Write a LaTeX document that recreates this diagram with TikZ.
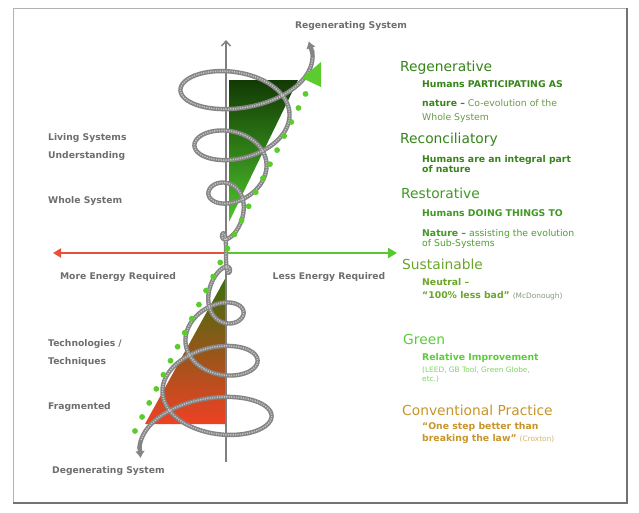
\documentclass[tikz,border=0pt]{standalone}
\usepackage{fontspec}
\setmainfont{DejaVu Sans}
\usetikzlibrary{arrows.meta}
\newcommand\tinyfs{\fontsize{7.4}{9}\selectfont}
\newcommand\subbf{\fontsize{9.3}{11}\selectfont\bfseries}
\newcommand\labfs{\fontsize{9.2}{11}\selectfont\bfseries}
\definecolor{labgray}{HTML}{6E6E6E}
\definecolor{axgray}{HTML}{7F7F7F}
\definecolor{ropegray}{HTML}{858585}
\definecolor{ropelight}{HTML}{C4C4C4}
\definecolor{redarrow}{HTML}{E9503A}
\definecolor{grnarrow}{HTML}{58C832}
\definecolor{dotgreen}{HTML}{5CCB2E}
\definecolor{darkg}{HTML}{123A04}
\definecolor{lightg}{HTML}{4EC52C}
\definecolor{olive}{HTML}{3B6E0E}
\definecolor{rust}{HTML}{B8601C}
\definecolor{redtri}{HTML}{EE4124}
\definecolor{hgreenA}{HTML}{37841B}
\definecolor{hgreenB}{HTML}{3F9A22}
\definecolor{subreg}{HTML}{6A9A48}
\definecolor{sustain}{HTML}{6AA628}
\definecolor{brightg}{HTML}{5CCC3A}
\definecolor{paleg}{HTML}{7FD465}
\definecolor{gold}{HTML}{C8952B}
\definecolor{paren}{HTML}{8A9A7A}
\begin{document}
\begin{tikzpicture}[x=1pt,y=-1pt,
  lbl/.style={anchor=base west,inner sep=0pt,text=labgray,font=\labfs},
  clbl/.style={anchor=base,inner sep=0pt,text=labgray,font=\labfs},
  head/.style={anchor=base west,inner sep=0pt,font=\fontsize{13.8}{16}\selectfont},
  sub/.style={anchor=base west,inner sep=0pt,font=\fontsize{9.3}{11}\selectfont},
  subb/.style={anchor=base west,inner sep=0pt,font=\subbf},
  axisline/.style={line width=1.6pt,draw=axgray},
  rope/.style={line width=4.4pt,draw=ropegray,line join=round},
  ropetex/.style={line width=1.5pt,draw=ropelight,dash pattern=on 1.2pt off 1.2pt},
  ropetip/.style={fill=ropegray,draw=ropegray,line width=0.5pt},
  declare function={
    hx(\t)=226 + 0.72*\t - 2.95*abs(\t)*sin(\t r);
    hy(\t)=253 - (5.5*\t + 0.095*\t*abs(\t) + 12*\t/sqrt(\t*\t+1)
            + (13*\t/sqrt(\t*\t+1.5) + 0.95*\t)*cos(\t r));
  },
]
\useasboundingbox (0,0) rectangle (639,512);
\fill[white] (0,0) rectangle (639,512);
% frame
\draw[black!30,line width=0.8pt] (627,8) -- (13,8) -- (13,503);
\draw[black!55,line width=1.6pt] (13,503) -- (627,503) -- (627,8);

% named points
\coordinate (O) at (226,253);
\coordinate (vtop) at (226,40);
\coordinate (vbot) at (226,462);
\coordinate (lend) at (53,253);
\coordinate (rend) at (397,253);
\coordinate (dotA) at (135,431);
\coordinate (dotB) at (306,93);

% triangles
\shade[top color=darkg,bottom color=lightg] (229,80) -- (298,80) -- (229,222) -- cycle;
\shade[top color=olive,middle color=rust,bottom color=redtri] (226,277) -- (226,424) -- (145,424) -- cycle;

% axes
\draw[axisline,-{Straight Barb[length=5pt,width=9pt,line width=1.4pt]}] (vbot) -- (vtop);
\draw[line width=2.3pt,draw=redarrow,-{Triangle[length=8pt,width=9pt]}] (O) -- (lend);
\draw[line width=2.6pt,draw=grnarrow,-{Triangle[length=9pt,width=10pt]}] (O) -- (rend);

% rope helix
\draw[rope] plot[domain=-23.6:23.75,samples=800] ({hx(\x)},{hy(\x)});
\draw[ropetex] plot[domain=-23.4:23.6,samples=800] ({hx(\x)},{hy(\x)});
% rope end tips
\coordinate (rtopA) at ({hx(23.7)},{hy(23.7)});
\coordinate (rtopB) at ({hx(23.95)},{hy(23.95)});
\coordinate (rbotA) at ({hx(-23.55)},{hy(-23.55)});
\coordinate (rbotB) at ({hx(-23.8)},{hy(-23.8)});
\draw[ropegray,line width=4.4pt,-{Latex[length=7pt,width=10pt]}] (rtopA) -- (rtopB);
\draw[ropegray,line width=4.4pt,-{Latex[length=7pt,width=10pt]}] (rbotA) -- (rbotB);

% dotted line and its head
\draw[draw=dotgreen,line width=5.8pt,line cap=round,dash pattern=on 0pt off 15.74pt] (dotA) -- (dotB);
\fill[dotgreen] (302,78) -- (321,62) -- (321,87) -- cycle;

% axis labels
\node[clbl] (regsys) at (351,28) {Regenerating System};
\node[lbl] (degsys) at (52,473) {Degenerating System};
\node[clbl] (more) at (118,279) {More Energy Required};
\node[clbl] (less) at (329,279) {Less Energy Required};
\node[lbl] (liv1) at (48,140) {Living Systems};
\node[lbl] (liv2) at (48,158) {Understanding};
\node[lbl] (whole) at (48,203) {Whole System};
\node[lbl] (tech1) at (48,346) {Technologies /};
\node[lbl] (tech2) at (48,364) {Techniques};
\node[lbl] (frag) at (48,409) {Fragmented};

% right column
\node[head,text=hgreenA] (h1) at (400,71.5) {Regenerative};
\node[subb,text=hgreenA] (h1a) at (422,87.5) {Humans PARTICIPATING AS};
\node[sub] (h1b) at (422,106) {\textcolor{hgreenA}{\bfseries nature –} \textcolor{subreg}{Co-evolution of the}};
\node[sub,text=subreg] (h1c) at (422,120) {Whole System};

\node[head,text=hgreenA] (h2) at (400,143.5) {Reconciliatory};
\node[subb,text=hgreenA] (h2a) at (422,162.5) {Humans are an integral part};
\node[subb,text=hgreenA] (h2b) at (422,172.5) {of nature};

\node[head,text=hgreenB] (h3) at (401,198) {Restorative};
\node[subb,text=hgreenB] (h3a) at (422,216.5) {Humans DOING THINGS TO};
\node[sub] (h3b) at (422,236.5) {\textcolor{hgreenB}{\bfseries Nature –} \textcolor{brightg!80!black}{assisting the evolution}};
\node[sub,text=brightg!80!black] (h3c) at (422,246.5) {of Sub-Systems};

\node[head,text=sustain] (h4) at (402,269) {Sustainable};
\node[subb,text=sustain] (h4a) at (422,285) {Neutral –};
\node[sub] (h4b) at (422,298) {\textcolor{sustain}{\bfseries “100\% less bad”} {\tinyfs\textcolor{paren}{(McDonough)}}};

\node[head,text=brightg] (h5) at (403,344) {Green};
\node[subb,text=brightg] (h5a) at (422,360) {Relative Improvement};
\node[sub,text=paleg,font=\tinyfs] (h5b) at (422,372.5) {(LEED, GB Tool, Green Globe,};
\node[sub,text=paleg,font=\tinyfs] (h5c) at (422,381) {etc.)};

\node[head,text=gold] (h6) at (402,415.5) {Conventional Practice};
\node[subb,text=gold] (h6a) at (422,429) {“One step better than};
\node[sub] (h6b) at (422,441.5) {\textcolor{gold}{\bfseries breaking the law”} {\tinyfs\textcolor{gold!70}{(Croxton)}}};
\end{tikzpicture}
\end{document}
